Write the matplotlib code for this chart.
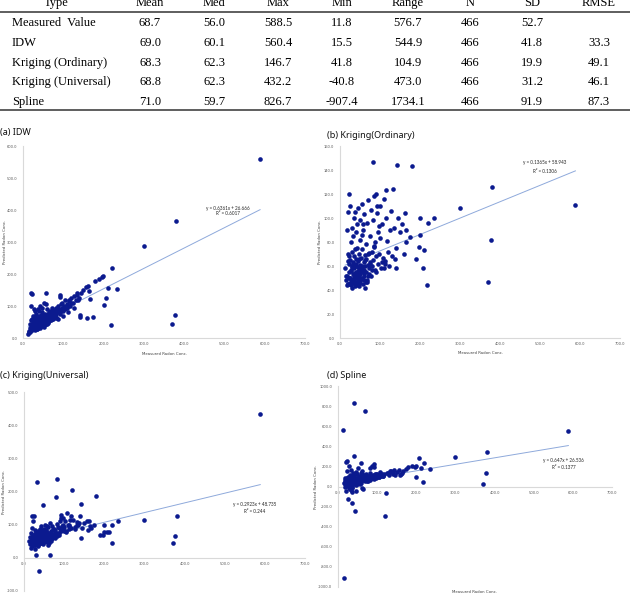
import numpy as np
import matplotlib
matplotlib.use("Agg")
import matplotlib.pyplot as plt
from matplotlib.lines import Line2D
from matplotlib.ticker import FormatStrFormatter, MultipleLocator

# ---- table values ----
table_header = ["Type", "Mean", "Med", "Max", "Min", "Range", "N", "SD", "RMSE"]
table_types = ["Measured  Value", "IDW", "Kriging (Ordinary)", "Kriging (Universal)", "Spline"]
table_mean = ["68.7", "69.0", "68.3", "68.8", "71.0"]
table_med = ["56.0", "60.1", "62.3", "62.3", "59.7"]
table_max = ["588.5", "560.4", "146.7", "432.2", "826.7"]
table_min = ["11.8", "15.5", "41.8", "-40.8", "-907.4"]
table_range = ["576.7", "544.9", "104.9", "473.0", "1734.1"]
table_n = ["466", "466", "466", "466", "466"]
table_sd = ["52.7", "41.8", "19.9", "31.2", "91.9"]
table_rmse = ["", "33.3", "49.1", "46.1", "87.3"]

# ---- scatter values (measured vs predicted radon) ----
measured = [
    13, 15, 17, 18, 19, 21, 22, 23, 24, 25,
    26, 27, 27, 28, 29, 30, 30, 31, 32, 33,
    33, 34, 35, 35, 36, 37, 38, 38, 39, 40,
    40, 41, 42, 42, 43, 44, 45, 45, 46, 47,
    47, 48, 49, 50, 50, 51, 52, 53, 54, 55,
    55, 56, 57, 58, 59, 60, 61, 62, 63, 64,
    65, 66, 67, 68, 70, 71, 72, 74, 75, 77,
    78, 80, 82, 83, 85, 87, 88, 90, 92, 94,
    96, 98, 100, 103, 105, 108, 110, 113, 116, 120,
    123, 127, 131, 135, 140, 145, 150, 156, 20, 28,
    36, 44, 52, 60, 68, 76, 31, 39, 48, 57,
    25, 34, 43, 53, 63, 73, 86, 99, 112, 126,
    16, 19, 22, 24, 27, 29, 32, 34, 37, 39,
    41, 43, 46, 49, 51, 54, 56, 59, 62, 66,
    69, 73, 79, 84, 91, 97, 104, 111, 118, 137,
    18, 23, 29, 35, 41, 47, 54, 61, 70, 81,
    588.5, 381, 377, 370, 300, 234, 220, 218, 211, 207,
    200, 199, 197, 189, 179, 174, 166, 164, 162, 159,
    142, 141, 133, 115, 91, 93, 83, 58, 23, 21,
]
pred_idw = [
    14, 20, 45, 30, 55, 25, 60, 38, 70, 28,
    48, 35, 62, 40, 85, 30, 52, 66, 44, 38,
    75, 50, 42, 60, 35, 90, 48, 58, 40, 68,
    45, 100, 55, 38, 62, 50, 72, 42, 58, 80,
    52, 45, 65, 60, 48, 110, 56, 70, 50, 62,
    75, 58, 45, 68, 90, 60, 52, 72, 65, 80,
    70, 62, 85, 58, 75, 95, 68, 82, 60, 78,
    88, 72, 95, 65, 90, 100, 80, 92, 75, 105,
    90, 110, 85, 100, 120, 95, 105, 115, 100, 125,
    110, 130, 118, 135, 125, 140, 150, 160, 100, 90,
    30, 40, 35, 45, 55, 65, 25, 85, 95, 105,
    40, 28, 32, 42, 50, 58, 60, 70, 80, 95,
    22, 35, 28, 48, 40, 55, 36, 62, 45, 50,
    58, 40, 52, 70, 44, 60, 66, 50, 75, 58,
    64, 80, 70, 85, 80, 95, 90, 100, 110, 120,
    18, 26, 32, 28, 35, 38, 45, 48, 55, 62,
    560.4, 365, 73, 45, 288, 153, 218, 40, 155, 125,
    102, 195, 192, 185, 177, 65, 121, 148, 161, 62,
    73, 67, 140, 120, 133, 129, 75, 140, 137, 140,
]
pred_ko = [
    58, 48, 90, 52, 70, 45, 62, 55, 110, 50,
    65, 44, 80, 56, 92, 60, 48, 72, 53, 85,
    62, 46, 100, 58, 68, 43, 105, 54, 88, 66,
    50, 60, 75, 47, 95, 56, 64, 44, 108, 58,
    70, 52, 82, 46, 61, 98, 55, 67, 49, 112,
    58, 74, 45, 90, 63, 52, 103, 60, 42, 78,
    66, 55, 96, 48, 70, 115, 58, 85, 62, 107,
    52, 72, 98, 65, 118, 57, 80, 68, 104, 62,
    88, 70, 110, 58, 95, 67, 116, 64, 100, 72,
    60, 106, 68, 92, 75, 100, 88, 95, 64, 47,
    52, 49, 57, 54, 47, 63, 59, 51, 66, 56,
    46, 61, 53, 59, 65, 71, 76, 83, 62, 90,
    52, 45, 68, 50, 57, 46, 63, 49, 74, 51,
    62, 45, 59, 53, 48, 86, 50, 57, 69, 47,
    61, 53, 60, 77, 55, 93, 63, 58, 81, 66,
    44, 50, 42, 47, 55, 43, 60, 48, 52, 57,
    111, 126, 82, 47, 108, 100, 96, 44, 73, 58,
    100, 86, 76, 66, 143, 84, 80, 90, 104, 70,
    144, 58, 124, 123, 120, 110, 146.7, 95, 120, 105,
]
pred_ku = [
    50, 62, 45, 75, 58, 90, 55, 70, 48, 125,
    60, 72, 40, 85, 8, 52, 66, 78, 228, 58,
    45, 70, 82, 55, 64, 48, -40.8, 75, 60, 88,
    52, 68, 95, 44, 60, 78, 56, 85, 50, 159,
    62, 72, 48, 88, 58, 66, 100, 54, 76, 60,
    82, 50, 70, 62, 92, 56, 75, 45, 68, 105,
    9, 64, 80, 58, 96, 72, 62, 88, 70, 78,
    84, 184, 66, 102, 76, 90, 70, 110, 80, 95,
    86, 120, 92, 110, 78, 135, 98, 88, 125, 206,
    115, 92, 108, 100, 125, 90, 105, 112, 35, 28,
    40, 46, 58, 65, 52, 60, 50, 44, 56, 48,
    38, 55, 62, 70, 58, 68, 74, 82, 98, 88,
    42, 56, 65, 50, 48, 72, 58, 62, 52, 70,
    64, 54, 76, 58, 70, 62, 84, 55, 66, 74,
    60, 86, 72, 94, 85, 100, 80, 95, 90, 105,
    30, 45, 52, 36, 48, 42, 55, 38, 60, 68,
    432.2, 125, 67, 46, 114, 112, 99, 44, 79, 79,
    99, 79, 69, 69, 186, 100, 90, 95, 110, 85,
    161, 60, 100, 115, 130, 120, 238, 95, 110, 125,
]
pred_spline = [
    565, -907.4, 40, 20, 80, -45, 60, 150, 30, 90,
    -120, 45, 200, 15, 70, 110, 35, 55, -30, 160,
    25, 85, 50, -10, -169, 65, 130, 40, 95, 302,
    55, 826.7, 20, 100, 70, -243, 45, 140, 30, 80,
    60, 120, 25, 85, 50, 180, 40, 95, 65, 20,
    75, 100, 55, 130, 35, 90, 60, 150, 70, -25,
    85, 110, 60, 95, 754, 75, 120, 55, 100, 80,
    90, 70, 130, 60, 105, 200, 85, 115, 95, 120,
    100, 80, 125, 110, 90, 140, 105, 120, 100, -292,
    -63, 130, 115, 150, 125, 110, 140, 160, 5, 65,
    -55, 75, 45, 60, 90, 55, -20, 100, 35, 80,
    15, 50, 65, 40, 85, 70, 95, 90, 110, 135,
    35, 60, 10, 85, -15, 45, 70, 20, 55, 110,
    30, 65, -40, 75, 40, 95, 50, 80, 120, 60,
    70, 105, 85, 90, 75, 125, 95, 110, 120, 140,
    -5, 25, 45, 0, 60, 15, 35, -10, 50, 70,
    551, 345, 136, 23, 289, 173, 229, 43, 180, 286,
    96, 203, 190, 200, 195, 170, 150, 130, 120, 110,
    160, 140, 150, 100, 223, 190, 180, 236, 252, 246,
]

panel_titles = ["(a) IDW", "(b) Kriging(Ordinary)", "(c) Kriging(Universal)", "(d) Spline"]
trend_slope = [0.6361, 0.1365, 0.2923, 0.647]
trend_intercept = [26.666, 58.943, 48.735, 26.536]
trend_r2 = ["0.6017", "0.1306", "0.244", "0.1377"]


def px(x, y, W=630, H=596):
    return x / W, 1 - y / H


def main():
    fig = plt.figure(figsize=(6.3, 5.96), dpi=100)

    # ---- table ----
    serif = "Liberation Serif"
    col_x = [56, 150, 214, 278, 342, 408, 470, 532, 599]
    for cx, h in zip(col_x, table_header):
        fig.text(*px(cx, 6), h, ha="center", va="baseline", family=serif, fontsize=9)
    cols = [table_mean, table_med, table_max, table_min, table_range,
            table_n, table_sd, table_rmse]
    row_y = [26, 46, 66, 85, 105]
    for i, ry in enumerate(row_y):
        fig.text(*px(12, ry), table_types[i], ha="left", va="baseline",
                 family=serif, fontsize=9)
        for cx, col in zip(col_x[1:], cols):
            fig.text(*px(cx, ry), col[i], ha="center", va="baseline",
                     family=serif, fontsize=9)
    for ly in (12, 110):
        fig.add_artist(Line2D([0, 1], [1 - ly / 596] * 2, color="#333333", lw=1.1))

    # ---- scatter panels ----
    rects = [(23, 146, 305, 338), (340, 146, 620, 338),
             (24, 392, 305, 591), (338, 386, 612, 587)]
    ylims = [(0, 600), (0, 160), (-100, 500), (-1000, 1000)]
    ysteps = [100, 20, 100, 200]
    preds = [pred_idw, pred_ko, pred_ku, pred_spline]
    title_pos = [(0, 132), (327, 135), (0, 375), (327, 375)]
    eq_pos = [(509, 406, 388), (512, 146, 139), (575, 162, 141), (577, 254, 194)]
    xlab_y = [-0.073, -0.068, -0.03, -0.015]
    ylab_x = [-0.057, -0.064, -0.064, -0.073]

    x = np.array(measured)
    for k in range(4):
        l, t, r, b = rects[k]
        ax = fig.add_axes([l / 630, 1 - b / 596, (r - l) / 630, (b - t) / 596])
        ax.scatter(x, preds[k], s=11, color="#0b1a8f", linewidths=0, zorder=3)
        xs = np.array([x.min(), x.max()])
        ax.plot(xs, trend_slope[k] * xs + trend_intercept[k], color="#8ea9db",
                lw=0.7, zorder=2)
        ax.set_xlim(0, 700)
        ax.set_ylim(*ylims[k])
        ax.xaxis.set_major_locator(MultipleLocator(100))
        ax.yaxis.set_major_locator(MultipleLocator(ysteps[k]))
        ax.xaxis.set_major_formatter(FormatStrFormatter("%.1f"))
        ax.yaxis.set_major_formatter(FormatStrFormatter("%.1f"))
        ax.tick_params(length=0, labelsize=2.6, labelcolor="#595959", pad=3)
        ax.tick_params(axis="y", pad=4)
        for s in ("top", "right"):
            ax.spines[s].set_visible(False)
        for s in ("left", "bottom"):
            ax.spines[s].set_color("#d9d9d9")
            ax.spines[s].set_linewidth(0.8)
        if ylims[k][0] < 0:
            ax.spines["bottom"].set_position(("data", 0))
        ax.set_facecolor("none")
        ax.set_xlabel("Measured Radon Conc.", fontsize=2.8, color="#404040")
        ax.set_ylabel("Predicted Radon Conc.", fontsize=2.8, color="#404040")
        ax.xaxis.set_label_coords(0.5, xlab_y[k])
        ax.yaxis.set_label_coords(ylab_x[k], 0.5)

        ex, ey1, ey2 = eq_pos[k]
        ax.text(ex, ey1, "y = %gx + %.3f" % (trend_slope[k], trend_intercept[k]),
                ha="center", va="center", fontsize=3.3, family="Lato", color="#262626")
        ax.text(ex, ey2, "R² = " + trend_r2[k], ha="center", va="center",
                fontsize=3.3, family="Lato", color="#262626")

        tx, ty = title_pos[k]
        fig.text(*px(tx, ty), panel_titles[k], ha="left", va="center",
                 family="Noto Sans", fontsize=6.5, color="#111111")

    fig.savefig("out.png", dpi=100)


if __name__ == "__main__":
    main()
